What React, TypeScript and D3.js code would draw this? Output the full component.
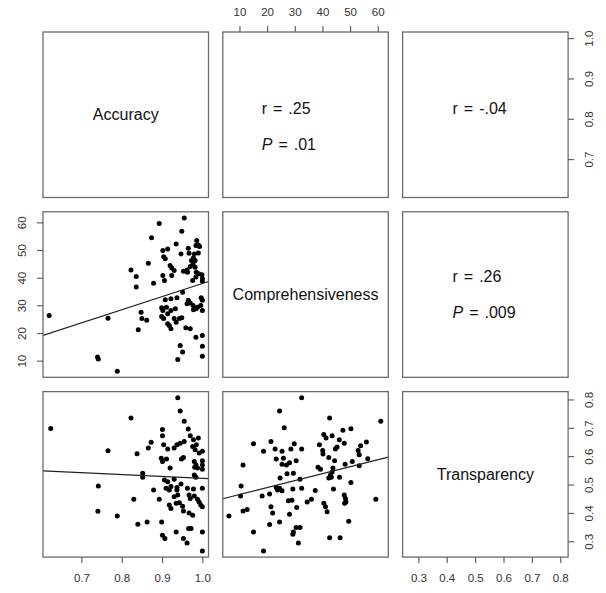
import React, { useRef, useEffect } from "react";
import * as d3 from "d3";

const variables = ["Accuracy", "Comprehensiveness", "Transparency"];

const accuracyTicks = [0.7, 0.8, 0.9, 1.0];
const comprehensivenessTicks = [10, 20, 30, 40, 50, 60];
const transparencyTicks = [0.3, 0.4, 0.5, 0.6, 0.7, 0.8];

// [accuracy, comprehensiveness]
const accuracyComprehensiveness: [number, number][] = [
  [0.62, 26.3], [0.74, 11.3], [0.742, 10.6], [0.766, 25.3], [0.789, 6.2], [0.823, 42.8],
  [0.955, 61.6], [0.893, 59.6], [0.949, 56.8], [0.874, 54.4], [0.986, 53.4], [0.935, 52.2],
  [0.99, 51.8], [0.984, 51.6], [0.993, 51.3], [0.914, 50.4], [0.902, 49.8], [0.965, 50.6],
  [0.947, 48.6], [0.967, 48.8], [0.98, 48.6], [0.99, 48.9], [0.904, 47.6], [0.908, 46.8],
  [0.978, 47.2], [0.973, 46.2], [0.982, 46.2], [0.866, 45.2], [0.92, 44.4], [0.924, 43.5],
  [0.977, 45.0], [0.97, 44.0], [0.982, 43.8], [0.93, 42.6], [0.953, 42.3], [0.963, 42.0],
  [0.962, 42.8], [0.985, 42.0], [0.991, 41.4], [0.999, 41.1], [0.902, 40.8], [0.906, 39.0],
  [0.924, 40.8], [1.0, 39.6], [0.976, 39.0], [0.984, 40.2], [0.879, 38.0], [0.836, 36.6],
  [0.836, 40.4], [1.0, 38.7],
  [0.951, 34.7], [0.908, 32.0], [0.922, 32.4], [0.937, 32.7], [0.965, 31.8], [0.97, 30.8],
  [0.977, 29.9], [0.962, 30.6], [0.997, 32.7], [1.0, 31.8], [0.996, 29.9], [1.0, 28.1],
  [0.988, 29.3], [0.984, 28.8], [0.978, 28.4], [0.899, 29.1], [0.911, 29.3], [0.902, 28.1],
  [0.933, 28.8], [0.922, 28.1], [0.914, 27.0], [0.848, 27.5], [0.899, 26.0], [0.904, 25.2],
  [0.85, 25.2], [0.862, 24.6], [0.93, 25.2], [0.943, 25.2], [0.949, 25.5], [0.914, 23.3],
  [0.918, 22.7], [0.922, 21.5], [0.935, 23.9], [0.841, 21.2], [0.959, 21.9], [0.97, 21.5],
  [0.984, 18.5], [1.0, 19.1], [0.945, 15.5], [0.951, 13.1], [1.0, 15.2], [1.0, 11.6],
  [0.939, 10.4],
];

// [accuracy, transparency]
const accuracyTransparency: [number, number][] = [
  [0.624, 0.698], [0.823, 0.735], [0.766, 0.619], [0.742, 0.495], [0.741, 0.406], [0.789, 0.389],
  [0.83, 0.448],
  [0.939, 0.806], [0.945, 0.759], [0.955, 0.723], [0.965, 0.696], [0.901, 0.694], [0.901, 0.672],
  [0.97, 0.672], [0.978, 0.658], [0.99, 0.664], [0.985, 0.64], [0.873, 0.649], [0.866, 0.629],
  [0.904, 0.64], [0.93, 0.629], [0.937, 0.64], [0.945, 0.646], [0.955, 0.652], [0.914, 0.625],
  [0.976, 0.634], [0.982, 0.623], [1.0, 0.617], [0.992, 0.611], [0.838, 0.609], [0.898, 0.593],
  [0.901, 0.581], [0.911, 0.59], [0.953, 0.595], [0.948, 0.59], [0.92, 0.558], [0.98, 0.581],
  [0.984, 0.569], [0.981, 0.561], [0.988, 0.558], [1.0, 0.584], [1.0, 0.569], [1.0, 0.554],
  [0.852, 0.54], [0.852, 0.526], [0.98, 0.534], [0.984, 0.526], [0.906, 0.516], [0.914, 0.51],
  [0.93, 0.519], [0.947, 0.502], [0.91, 0.487], [0.918, 0.481], [0.922, 0.493], [0.879, 0.481],
  [0.937, 0.49], [0.937, 0.481], [0.963, 0.487], [0.978, 0.484], [1.0, 0.487], [0.893, 0.448],
  [0.93, 0.457], [0.939, 0.463], [0.967, 0.463], [0.97, 0.451], [0.98, 0.46], [0.988, 0.448],
  [0.992, 0.439], [0.996, 0.428], [1.0, 0.422], [0.918, 0.428], [0.922, 0.416], [0.935, 0.434],
  [0.943, 0.436], [0.951, 0.424], [0.953, 0.407], [0.967, 0.4], [0.976, 0.392], [0.84, 0.36],
  [0.863, 0.368], [0.899, 0.368], [0.901, 0.321], [0.907, 0.31], [0.935, 0.333], [0.953, 0.31],
  [0.962, 0.294], [0.966, 0.345], [0.972, 0.345], [1.0, 0.333], [1.0, 0.266],
];

// [comprehensiveness, transparency]
const comprehensivenessTransparency: [number, number][] = [
  [32.5, 0.806], [24.5, 0.759], [26.2, 0.7], [15.1, 0.644], [21.4, 0.652], [18.7, 0.617],
  [22.9, 0.625], [25.4, 0.617], [23.3, 0.59], [25.9, 0.593], [29.8, 0.644], [28.6, 0.625],
  [32.5, 0.625], [11.3, 0.569], [25.4, 0.572], [27.0, 0.569], [28.1, 0.577], [30.5, 0.584],
  [29.5, 0.54], [27.2, 0.538], [24.7, 0.523], [31.9, 0.519], [10.6, 0.495], [23.3, 0.49],
  [23.8, 0.481], [25.4, 0.478], [24.5, 0.487], [29.3, 0.484], [32.5, 0.487], [10.4, 0.46],
  [18.2, 0.46], [20.9, 0.467], [27.7, 0.443], [29.0, 0.445], [12.8, 0.412], [11.3, 0.407],
  [21.4, 0.422], [22.0, 0.4], [6.2, 0.389], [30.7, 0.419], [28.1, 0.395], [24.5, 0.368],
  [20.9, 0.359], [15.1, 0.333], [30.5, 0.349], [31.9, 0.349], [29.5, 0.333], [29.3, 0.325],
  [31.3, 0.294], [18.7, 0.266],
  [42.6, 0.735], [61.1, 0.723], [40.5, 0.676], [41.3, 0.664], [43.5, 0.672], [47.4, 0.691],
  [50.3, 0.697], [46.1, 0.658], [47.9, 0.646], [55.9, 0.65], [53.8, 0.637], [52.9, 0.62],
  [53.3, 0.605], [38.9, 0.64], [40.1, 0.62], [40.2, 0.608], [42.3, 0.595], [45.3, 0.632],
  [44.7, 0.625], [44.4, 0.584], [48.2, 0.572], [50.8, 0.581], [56.4, 0.591], [53.3, 0.566],
  [38.4, 0.561], [39.3, 0.554], [43.8, 0.558], [43.5, 0.544], [42.9, 0.534], [42.3, 0.523],
  [43.2, 0.526], [46.2, 0.526], [50.3, 0.507], [37.4, 0.479], [44.0, 0.484], [47.9, 0.463],
  [48.3, 0.451], [48.5, 0.439], [48.0, 0.434], [34.5, 0.439], [36.0, 0.448], [40.5, 0.434],
  [41.1, 0.422], [41.7, 0.404], [59.3, 0.448], [49.5, 0.371], [42.6, 0.313], [46.4, 0.313],
];

// least squares lines: [intercept, slope]
const fitAccuracyComprehensiveness = [-9.6, 47.5];
const fitAccuracyTransparency = [0.588, -0.0658];
const fitComprehensivenessTransparency = [0.4404, 0.00245];

// correlation text in the upper panels
const correlationR = [".25", "-.04", ".26"];
const correlationP = [".01", null, ".009"];

function App() {
  const svgRef = useRef<SVGSVGElement>(null);

  useEffect(() => {
    const svg = d3.select(svgRef.current);
    svg.selectAll("*").remove();

    const left = 43, top = 32, size = 165.5, gap = 14.3;
    const cellX = (c: number) => left + c * (size + gap);
    const cellY = (r: number) => top + r * (size + gap);

    // R style: data range stretched by 4%
    const padded = (vals: number[]) => {
      const [lo, hi] = d3.extent(vals) as [number, number];
      const d = (hi - lo) * 0.04;
      return [lo - d, hi + d];
    };
    const domains = [
      padded([...accuracyComprehensiveness.map((d) => d[0]), ...accuracyTransparency.map((d) => d[0])]),
      padded([...accuracyComprehensiveness.map((d) => d[1]), ...comprehensivenessTransparency.map((d) => d[0])]),
      padded([...accuracyTransparency.map((d) => d[1]), ...comprehensivenessTransparency.map((d) => d[1])]),
    ];
    const xs = (v: number) => d3.scaleLinear().domain(domains[v]).range([cellX(v), cellX(v) + size]);
    const ys = (v: number) => d3.scaleLinear().domain(domains[v]).range([cellY(v) + size, cellY(v)]);

    const font = "'Liberation Sans', Arial, Helvetica, sans-serif";

    // scatter panels
    const panels = [
      { xv: 0, yv: 1, data: accuracyComprehensiveness, fit: fitAccuracyComprehensiveness },
      { xv: 0, yv: 2, data: accuracyTransparency, fit: fitAccuracyTransparency },
      { xv: 1, yv: 2, data: comprehensivenessTransparency, fit: fitComprehensivenessTransparency },
    ];
    panels.forEach((p, i) => {
      const x = xs(p.xv);
      const y = ys(p.yv);
      const g = svg.append("g");
      const clipId = `clip${i}`;
      svg.append("clipPath").attr("id", clipId)
        .append("rect")
        .attr("x", cellX(p.xv)).attr("y", cellY(p.yv))
        .attr("width", size).attr("height", size);
      g.selectAll("circle")
        .data(p.data)
        .join("circle")
        .attr("cx", (d) => x(d[0]))
        .attr("cy", (d) => y(d[1]))
        .attr("r", 2.5)
        .attr("fill", "#000");
      const [a, b] = p.fit;
      const [x0, x1] = domains[p.xv];
      g.append("line")
        .attr("clip-path", `url(#${clipId})`)
        .attr("x1", x(x0)).attr("y1", y(a + b * x0))
        .attr("x2", x(x1)).attr("y2", y(a + b * x1))
        .attr("stroke", "#222")
        .attr("stroke-width", 1.2);
    });

    // panel boxes
    for (let r = 0; r < 3; r++) {
      for (let c = 0; c < 3; c++) {
        svg.append("rect")
          .attr("x", cellX(c)).attr("y", cellY(r))
          .attr("width", size).attr("height", size)
          .attr("fill", "none")
          .attr("stroke", "#6a6a6a")
          .attr("stroke-width", 1.3);
      }
    }

    // diagonal labels
    variables.forEach((name, i) => {
      svg.append("text")
        .attr("x", cellX(i) + size / 2)
        .attr("y", cellY(i) + size / 2)
        .attr("dy", "0.35em")
        .attr("text-anchor", "middle")
        .attr("font-family", font)
        .attr("font-size", 16)
        .attr("fill", "#111")
        .text(name);
    });

    // correlation text
    const corrPos = [
      { x: cellX(1) + 39, yr: cellY(0) + 82, yp: cellY(0) + 118 },
      { x: cellX(2) + 50, yr: cellY(0) + 82, yp: 0 },
      { x: cellX(2) + 50, yr: cellY(1) + 70, yp: cellY(1) + 106 },
    ];
    corrPos.forEach((pos, i) => {
      svg.append("text")
        .attr("x", pos.x).attr("y", pos.yr)
        .attr("font-family", font).attr("font-size", 16)
        .attr("word-spacing", 1.5)
        .attr("fill", "#111")
        .text(`r = ${correlationR[i]}`);
      if (correlationP[i]) {
        const t = svg.append("text")
          .attr("x", pos.x).attr("y", pos.yp)
          .attr("font-family", font).attr("font-size", 16)
          .attr("word-spacing", 1.5)
          .attr("fill", "#111");
        t.append("tspan").attr("font-style", "italic").text("P");
        t.append("tspan").text(` = ${correlationP[i]}`);
      }
    });

    // axes
    const fmt1 = d3.format(".1f");
    const styleAxis = (g: any) => {
      g.select(".domain").remove();
      g.selectAll("line").attr("stroke", "#555").attr("stroke-width", 1.1);
      g.selectAll("text")
        .attr("font-family", font)
        .attr("font-size", 11.5)
        .attr("fill", "#333");
    };

    // top: comprehensiveness
    svg.append("g")
      .attr("transform", `translate(0,${cellY(0)})`)
      .call(d3.axisTop(xs(1)).tickValues(comprehensivenessTicks).tickSize(6).tickSizeOuter(0))
      .call(styleAxis)
      .call((g: any) => g.selectAll("text").attr("y", -20).attr("dy", "0.35em"));

    // bottom: accuracy and transparency
    [[0, accuracyTicks], [2, transparencyTicks]].forEach(([v, ticks]: any) => {
      svg.append("g")
        .attr("transform", `translate(0,${cellY(2) + size})`)
        .call(d3.axisBottom(xs(v)).tickValues(ticks).tickFormat(fmt1 as any).tickSize(6).tickSizeOuter(0))
        .call(styleAxis)
        .call((g: any) => g.selectAll("text").attr("y", 21).attr("dy", "0.35em"));
    });

    // left: comprehensiveness
    svg.append("g")
      .attr("transform", `translate(${cellX(0)},0)`)
      .call(d3.axisLeft(ys(1)).tickValues(comprehensivenessTicks).tickSize(6).tickSizeOuter(0))
      .call(styleAxis)
      .call((g: any) => g.selectAll("text")
        .attr("x", 0).attr("dy", "0.35em")
        .attr("text-anchor", "middle")
        .attr("transform", "translate(-21,0) rotate(-90)"));

    // right: accuracy and transparency
    [[0, accuracyTicks], [2, transparencyTicks]].forEach(([v, ticks]: any) => {
      svg.append("g")
        .attr("transform", `translate(${cellX(2) + size},0)`)
        .call(d3.axisRight(ys(v)).tickValues(ticks).tickFormat(fmt1 as any).tickSize(6).tickSizeOuter(0))
        .call(styleAxis)
        .call((g: any) => g.selectAll("text")
          .attr("x", 0).attr("dy", "0.35em")
          .attr("text-anchor", "middle")
          .attr("transform", "translate(21,0) rotate(-90)"));
    });
  }, []);

  return (
    <svg
      ref={svgRef}
      width={606}
      height={593}
      style={{ position: "absolute", left: 0, top: 0, background: "#fff" }}
    />
  );
}

export default App;
